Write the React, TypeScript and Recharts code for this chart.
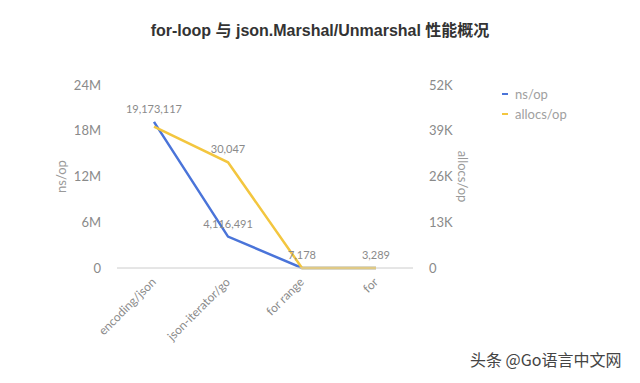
import React from 'react';
import { LineChart, Line, XAxis, YAxis } from 'recharts';

const categories = ['encoding/json', 'json-iterator/go', 'for range', 'for'];
const nsPerOp = [19173117, 4116491, 7178, 3289];
const allocsPerOp = [40200, 30047, 0, 0];
const leftTicks = [0, 6000000, 12000000, 18000000, 24000000];
const rightTicks = [0, 13000, 26000, 39000, 52000];
const allocsLabelShown = [false, true, false, false];

const title = 'for-loop 与 json.Marshal/Unmarshal 性能概况';
const watermark = '头条 @Go语言中文网';

const BLUE = '#4a74d9';
const YELLOW = '#f3c63f';
const FONT = 'Lato, "Noto Sans CJK SC", sans-serif';

const data = categories.map((c, i) => ({ name: c, ns: nsPerOp[i], allocs: allocsPerOp[i] }));

const fmt = (v: number) => v.toLocaleString('en-US');

const makeLabel = (shown: (i: number) => boolean) => (props: any) => {
  const { x, y, value, index } = props;
  if (!shown(index)) return null;
  return (
    <text x={x} y={y - 9} textAnchor="middle" fontSize={11} fill="#8a8a8a" fontFamily={FONT}>
      {fmt(value)}
    </text>
  );
};

const XTick = (props: any) => {
  const { x, y, payload } = props;
  return (
    <text
      x={x}
      y={y}
      dy={4}
      textAnchor="end"
      fontSize={12}
      fill="#8a8a8a"
      fontFamily={FONT}
      transform={`rotate(-45 ${x} ${y})`}
    >
      {payload.value}
    </text>
  );
};

export default function App() {
  return (
    <div style={{ position: 'absolute', left: 0, top: 0, width: 640, height: 383, background: '#fff' }}>
      <div
        style={{
          position: 'absolute',
          left: 0,
          top: 17,
          width: 640,
          textAlign: 'center',
          fontFamily: '"Liberation Sans", Arial, "Noto Sans CJK SC", sans-serif',
          fontWeight: 'bold',
          fontSize: 16,
          color: '#333',
        }}
      >
        {title}
      </div>
      <LineChart
        width={640}
        height={383}
        data={data}
        margin={{ top: 85, right: 167, bottom: 35, left: 40 }}
        style={{ position: 'absolute', left: 0, top: 0 }}
      >
        <XAxis
          dataKey="name"
          scale="band"
          height={80}
          axisLine={{ stroke: '#cccccc' }}
          tickLine={false}
          tick={<XTick />}
          tickSize={6}
          tickMargin={6}
          interval={0}
        />
        <YAxis
          yAxisId="left"
          orientation="left"
          width={77}
          domain={[0, 24000000]}
          ticks={leftTicks}
          tickFormatter={(v: number) => (v === 0 ? '0' : `${v / 1000000}M`)}
          axisLine={false}
          tickLine={false}
          tickSize={6}
          tickMargin={10}
          tick={{ fontSize: 13, fill: '#8a8a8a', fontFamily: FONT }}
          label={(p: any) => {
            const vb = p.viewBox;
            const cx = vb.x + 21;
            const cy = vb.y + vb.height / 2;
            return (
              <text x={cx} y={cy} textAnchor="middle" dominantBaseline="central" fontSize={13} fill="#999" fontFamily={FONT} transform={`rotate(-90 ${cx} ${cy})`}>
                ns/op
              </text>
            );
          }}
        />
        <YAxis
          yAxisId="right"
          orientation="right"
          width={60}
          domain={[0, 52000]}
          ticks={rightTicks}
          tickFormatter={(v: number) => (v === 0 ? '0' : `${v / 1000}K`)}
          axisLine={false}
          tickLine={false}
          tickSize={6}
          tickMargin={10}
          tick={{ fontSize: 13, fill: '#8a8a8a', fontFamily: FONT }}
          label={(p: any) => {
            const vb = p.viewBox;
            const cx = vb.x + 50;
            const cy = vb.y + vb.height / 2;
            return (
              <text x={cx} y={cy} textAnchor="middle" dominantBaseline="central" fontSize={13} fill="#999" fontFamily={FONT} transform={`rotate(90 ${cx} ${cy})`}>
                allocs/op
              </text>
            );
          }}
        />
        <Line
          yAxisId="left"
          dataKey="ns"
          name="ns/op"
          stroke={BLUE}
          strokeWidth={2.5}
          dot={false}
          isAnimationActive={false}
          label={makeLabel(() => true)}
        />
        <Line
          yAxisId="right"
          dataKey="allocs"
          name="allocs/op"
          stroke={YELLOW}
          strokeWidth={2.5}
          dot={false}
          isAnimationActive={false}
          label={makeLabel((i) => allocsLabelShown[i])}
        />
      </LineChart>
      <div style={{ position: 'absolute', left: 502, top: 84, fontFamily: FONT, fontSize: 13, color: '#a0a0a0', lineHeight: '20px' }}>
        {[
          { n: 'ns/op', c: BLUE },
          { n: 'allocs/op', c: YELLOW },
        ].map((it) => (
          <div key={it.n} style={{ display: 'flex', alignItems: 'center' }}>
            <span style={{ display: 'inline-block', width: 6, height: 2, background: it.c, marginRight: 7 }} />
            {it.n}
          </div>
        ))}
      </div>
      <div
        style={{
          position: 'absolute',
          left: 470,
          top: 347,
          fontFamily: '"Noto Sans CJK SC", sans-serif',
          fontSize: 16,
          color: '#444',
          textShadow: '0 0 2px #fff, 0 0 2px #fff',
        }}
      >
        {watermark}
      </div>
    </div>
  );
}
